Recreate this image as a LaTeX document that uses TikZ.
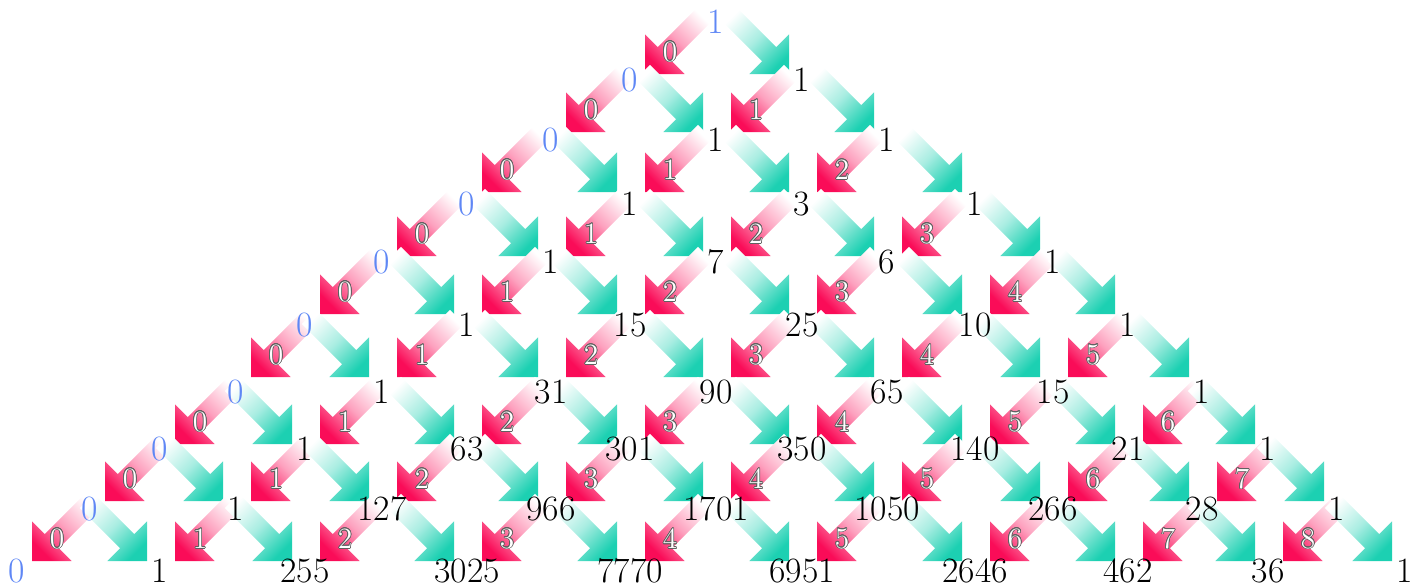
\documentclass[tikz,border=0pt]{standalone}
\usepackage{contour}
\usetikzlibrary{calc}
\contourlength{0.35pt}
\definecolor{stirpink}{RGB}{250,12,88}
\definecolor{stirteal}{RGB}{28,208,178}
\definecolor{stirblue}{RGB}{95,135,245}
\pgfdeclarelayer{arrows}
\pgfsetlayers{arrows,main}

\tikzset{
	num/.style={inner sep=0pt, font=\fontsize{17.8}{20}\selectfont},
	mult/.style={inner sep=0pt, font=\fontsize{14.7}{16}\selectfont},
	pinkarrow/.style={top color=white, bottom color=stirpink, middle color=stirpink!38, shading angle=-45},
	tealarrow/.style={top color=white, bottom color=stirteal, middle color=stirteal!38, shading angle=45},
	fatarrow/.pic={\path[pic actions] (0,0) -- (-28,28) -- (-28,10) -- (-85,10) -- (-85,-10) -- (-28,-10) -- (-28,-28) -- cycle;}
}
% column and row positions (px)
\def\colx{{17,90,160,236,305,382,467,551,630,716,802,887,975,1053,1128,1202,1268,1337,1405}}
\def\rowy{{22,80,140,204,262,325,392,449,509,571}}

\begin{document}
\begin{tikzpicture}[x=0.5pt, y=-0.5pt]
	\useasboundingbox (0,0) rectangle (1414,586);
	% Stirling numbers S(n,k):
	\foreach \n/\vals in {0/{1}, 1/{0,1}, 2/{0,1,1}, 3/{0,1,3,1}, 4/{0,1,7,6,1}, 5/{0,1,15,25,10,1}, 6/{0,1,31,90,65,15,1}, 7/{0,1,63,301,350,140,21,1}, 8/{0,1,127,966,1701,1050,266,28,1}, 9/{0,1,255,3025,7770,6951,2646,462,36,1}}{
		\foreach \v [count=\k from 0] in \vals {
			\pgfmathtruncatemacro\c{9-\n+2*\k}
			\pgfmathsetmacro\cx{\colx[\c]}
			\pgfmathsetmacro\cy{\rowy[\n]}
			\ifnum\k=0 \def\numcol{stirblue}\else\def\numcol{black}\fi
			\node[num, text=\numcol] (s-\n-\k) at (\cx,\cy) {\v};
		}
	}
	% arrows: k times down-left, once down-right
	\begin{pgfonlayer}{arrows}
	\foreach \n in {0,...,8}{
		\pgfmathtruncatemacro\m{\n+1}
		\foreach \k in {0,...,\n}{
			\pgfmathtruncatemacro\j{\k+1}
			\pic[pinkarrow, rotate=225] at ($(s-\m-\k |- s-\n-\k)+(15,52)$) {fatarrow};
			\node[mult] (w-\n-\k) at ($(s-\m-\k |- s-\n-\k)+(40,30)$) {\contour{gray!75!black}{\textcolor{white}{\k}}};
			\pic[tealarrow, rotate=-45] at ($(s-\m-\j |- s-\n-\k)+(-13,52)$) {fatarrow};
		}
	}
	\end{pgfonlayer}
\end{tikzpicture}
\end{document}
